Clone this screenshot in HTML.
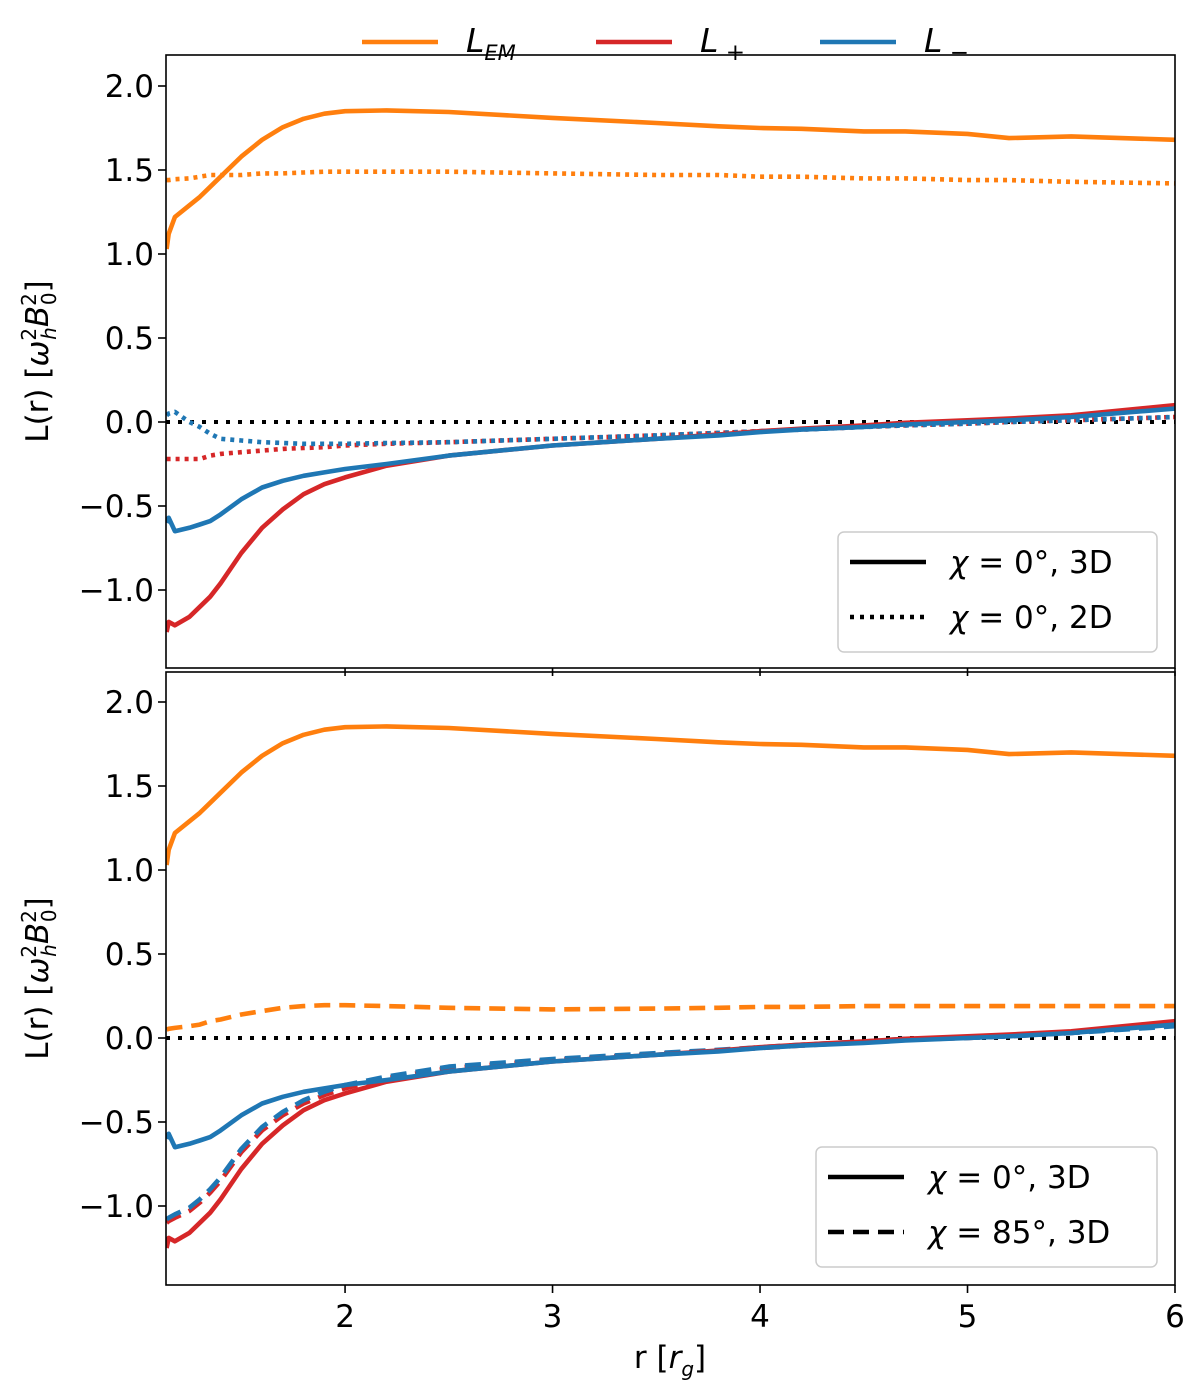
<!DOCTYPE html>
<html><head><meta charset="utf-8"><style>
body{margin:0;background:#fff;}
svg text{font-family:"DejaVu Sans","Liberation Sans",sans-serif;fill:#000;}
</style></head><body>
<svg id="chart" width="1200" height="1395" viewBox="0 0 1200 1395" xmlns="http://www.w3.org/2000/svg"></svg>
<script>
const rGrid=[1.14,1.15,1.18,1.25,1.3,1.35,1.4,1.5,1.6,1.7,1.8,1.9,2.0,2.2,2.5,3.0,3.5,3.8,4.0,4.2,4.5,4.7,5.0,5.2,5.5,6.0];
const lemSolid=[1.03,1.12,1.22,1.29,1.34,1.40,1.46,1.58,1.68,1.755,1.805,1.835,1.85,1.855,1.845,1.81,1.78,1.76,1.75,1.745,1.73,1.73,1.715,1.69,1.70,1.68];
const lplusSolid=[-1.25,-1.19,-1.21,-1.16,-1.10,-1.04,-0.96,-0.78,-0.63,-0.52,-0.43,-0.37,-0.33,-0.26,-0.2,-0.14,-0.1,-0.075,-0.055,-0.04,-0.02,-0.005,0.01,0.02,0.04,0.1];
const lminusSolid=[-0.6,-0.57,-0.65,-0.63,-0.61,-0.59,-0.55,-0.46,-0.39,-0.35,-0.32,-0.30,-0.28,-0.25,-0.2,-0.14,-0.1,-0.08,-0.06,-0.045,-0.03,-0.015,0.0,0.01,0.03,0.08];
const lem2D=[1.44,1.44,1.445,1.45,1.46,1.47,1.47,1.47,1.48,1.48,1.485,1.49,1.49,1.49,1.49,1.48,1.47,1.47,1.46,1.46,1.45,1.45,1.44,1.44,1.43,1.42];
const lplus2D=[-0.22,-0.22,-0.22,-0.22,-0.22,-0.2,-0.19,-0.18,-0.17,-0.16,-0.155,-0.15,-0.14,-0.13,-0.12,-0.1,-0.08,-0.065,-0.055,-0.045,-0.03,-0.02,-0.01,0.0,0.01,0.03];
const lminus2D=[0.04,0.05,0.06,0.0,-0.03,-0.07,-0.1,-0.11,-0.12,-0.125,-0.13,-0.13,-0.13,-0.125,-0.12,-0.1,-0.08,-0.065,-0.055,-0.045,-0.03,-0.02,-0.01,0.0,0.01,0.03];
const lem85=[0.05,0.055,0.06,0.07,0.08,0.10,0.11,0.14,0.16,0.18,0.19,0.195,0.195,0.19,0.18,0.17,0.175,0.18,0.185,0.185,0.19,0.19,0.19,0.19,0.19,0.19];
const lplus85=[-1.1,-1.09,-1.07,-1.03,-0.98,-0.92,-0.85,-0.68,-0.55,-0.46,-0.39,-0.34,-0.30,-0.24,-0.18,-0.13,-0.095,-0.075,-0.06,-0.045,-0.025,-0.01,0.0,0.01,0.03,0.08];
const lminus85=[-1.08,-1.07,-1.05,-1.01,-0.96,-0.9,-0.83,-0.66,-0.53,-0.44,-0.37,-0.32,-0.28,-0.23,-0.17,-0.125,-0.09,-0.07,-0.055,-0.04,-0.02,-0.005,0.0,0.01,0.03,0.07];
const xTicks=[2,3,4,5,6];
const yTicks=[-1.0,-0.5,0.0,0.5,1.0,1.5,2.0];
const yTickLabels=["\u22121.0","\u22120.5","0.0","0.5","1.0","1.5","2.0"];

const NS="http://www.w3.org/2000/svg";
const svg=document.getElementById('chart');
const X0=166,X1=1175,RMIN=1.137,RMAX=6.0;
const xs=r=>X0+(r-RMIN)/(RMAX-RMIN)*(X1-X0);
function mk(tag,attrs,parent){const e=document.createElementNS(NS,tag);for(const k in attrs)e.setAttribute(k,attrs[k]);(parent||svg).appendChild(e);return e;}
const ORANGE="#ff7f0e",RED="#d62728",BLUE="#1f77b4";
const panels=[{top:55,bot:668,zero:422},{top:672,bot:1285,zero:1038}];
function drawPanel(p,idx,series,legend){
  const g=mk('g',{});
  
  
  const ys=v=>p.zero-v*168;
  const clip=mk('clipPath',{id:'c'+idx},g);mk('rect',{x:X0,y:p.top,width:X1-X0,height:p.bot-p.top},clip);
  const lg=mk('g',{'clip-path':'url(#c'+idx+')'},g);
  const zl=mk('line',{x1:X0,x2:X1,y1:ys(0),y2:ys(0),stroke:'#000','stroke-width':4,'stroke-dasharray':'4 8'},lg);
  
  
  series.forEach(s=>{
    const pts=rGrid.map((r,i)=>xs(r).toFixed(1)+','+ys(s.v[i]).toFixed(1)).join(' ');
    const pl=mk('polyline',{points:pts,fill:'none',stroke:s.c,'stroke-width':s.w||4.6,'stroke-dasharray':s.d||'','stroke-linejoin':'round'},lg);
    
    
  });
  mk('rect',{x:X0,y:p.top,width:X1-X0,height:p.bot-p.top,fill:'none',stroke:'#000','stroke-width':1.6},g);
  yTicks.forEach((t,i)=>{
    const y=ys(t);
    mk('line',{x1:X0-8,x2:X0,y1:y,y2:y,stroke:'#000','stroke-width':1.6},g);
    const tx=mk('text',{x:X0-12,y:y+11,'text-anchor':'end','font-size':31},g);tx.textContent=yTickLabels[i];
    
    
  });
  xTicks.forEach(t=>{
    mk('line',{x1:xs(t),x2:xs(t),y1:p.bot,y2:p.bot+8,stroke:'#000','stroke-width':1.6},g);
    if(idx===1){const tx=mk('text',{x:xs(t),y:p.bot+42,'text-anchor':'middle','font-size':31},g);tx.textContent=t;
      
      }
  });
  const yt=mk('text',{transform:`translate(48,${(p.top+p.bot)/2}) rotate(-90)`,'text-anchor':'middle','font-size':31},g);
  yt.innerHTML='L(r) [<tspan font-style="italic">ω</tspan><tspan font-size="20" dy="-12">2</tspan><tspan font-size="20" font-style="italic" dx="-12" dy="20">h</tspan><tspan dy="-8" font-style="italic">B</tspan><tspan font-size="20" dy="-12">2</tspan><tspan font-size="20" dx="-12" dy="20">0</tspan><tspan dy="-8">]</tspan>';
  
  
  const lgx=legend.x,lgy=legend.y;
  const box=mk('rect',{x:lgx,y:lgy,width:X1-18-lgx,height:120,rx:6,fill:'#fff',stroke:'#ccc','stroke-width':1.5},g);
  
  
  legend.items.forEach((it,i)=>{
    const y=lgy+30+i*55;
    mk('line',{x1:lgx+12,x2:lgx+88,y1:y,y2:y,stroke:'#000','stroke-width':4.5,'stroke-dasharray':it.d},g);
    const tx=mk('text',{x:lgx+112,y:y+11,'font-size':31},g);
    tx.innerHTML='<tspan font-style="italic">χ</tspan> = '+it.t+', '+it.dim;
    
    
  });
}
drawPanel(panels[0],0,[
  {v:lem2D,c:ORANGE,d:'4 5',n:'lem-2d-line'},
  {v:lplus2D,c:RED,d:'4 5',n:'lplus-2d-line'},
  {v:lminus2D,c:BLUE,d:'4 5',n:'lminus-2d-line'},
  {v:lemSolid,c:ORANGE,n:'lem-3d-line'},
  {v:lplusSolid,c:RED,n:'lplus-3d-line'},
  {v:lminusSolid,c:BLUE,n:'lminus-3d-line'}
],{x:838,y:532,items:[{d:'',t:'0°',dim:'3D'},{d:'4 6',t:'0°',dim:'2D'}]});
drawPanel(panels[1],1,[
  {v:lem85,c:ORANGE,d:'16 9',n:'lem-85-line'},
  {v:lplus85,c:RED,d:'16 9',n:'lplus-85-line'},
  {v:lminus85,c:BLUE,d:'16 9',n:'lminus-85-line'},
  {v:lemSolid,c:ORANGE,n:'lem-3d-line-bottom'},
  {v:lplusSolid,c:RED,n:'lplus-3d-line-bottom'},
  {v:lminusSolid,c:BLUE,n:'lminus-3d-line-bottom'}
],{x:816,y:1147,items:[{d:'',t:'0°',dim:'3D'},{d:'16 9',t:'85°',dim:'3D'}]});
const xl=mk('text',{x:670,y:1368,'text-anchor':'middle','font-size':31});
xl.innerHTML='r [<tspan font-style="italic">r</tspan><tspan font-size="20" font-style="italic" dy="8">g</tspan><tspan dy="-8">]</tspan>';


const tl=[{c:ORANGE,x:362,h:'<tspan font-style="italic">L</tspan><tspan font-size="21" font-style="italic" dy="8">EM</tspan>'},
          {c:RED,x:596,h:'<tspan font-style="italic">L</tspan><tspan font-size="23" dy="8"> +</tspan>'},
          {c:BLUE,x:820,h:'<tspan font-style="italic">L</tspan><tspan font-size="23" dy="8"> −</tspan>'}];
tl.forEach(e=>{
  const g=mk('g',{});
  
  
  mk('line',{x1:e.x,x2:e.x+76,y1:42,y2:42,stroke:e.c,'stroke-width':4.6},g);
  const t=mk('text',{x:e.x+104,y:52,'font-size':33},g);t.innerHTML=e.h;
});
</script>
</body></html>
